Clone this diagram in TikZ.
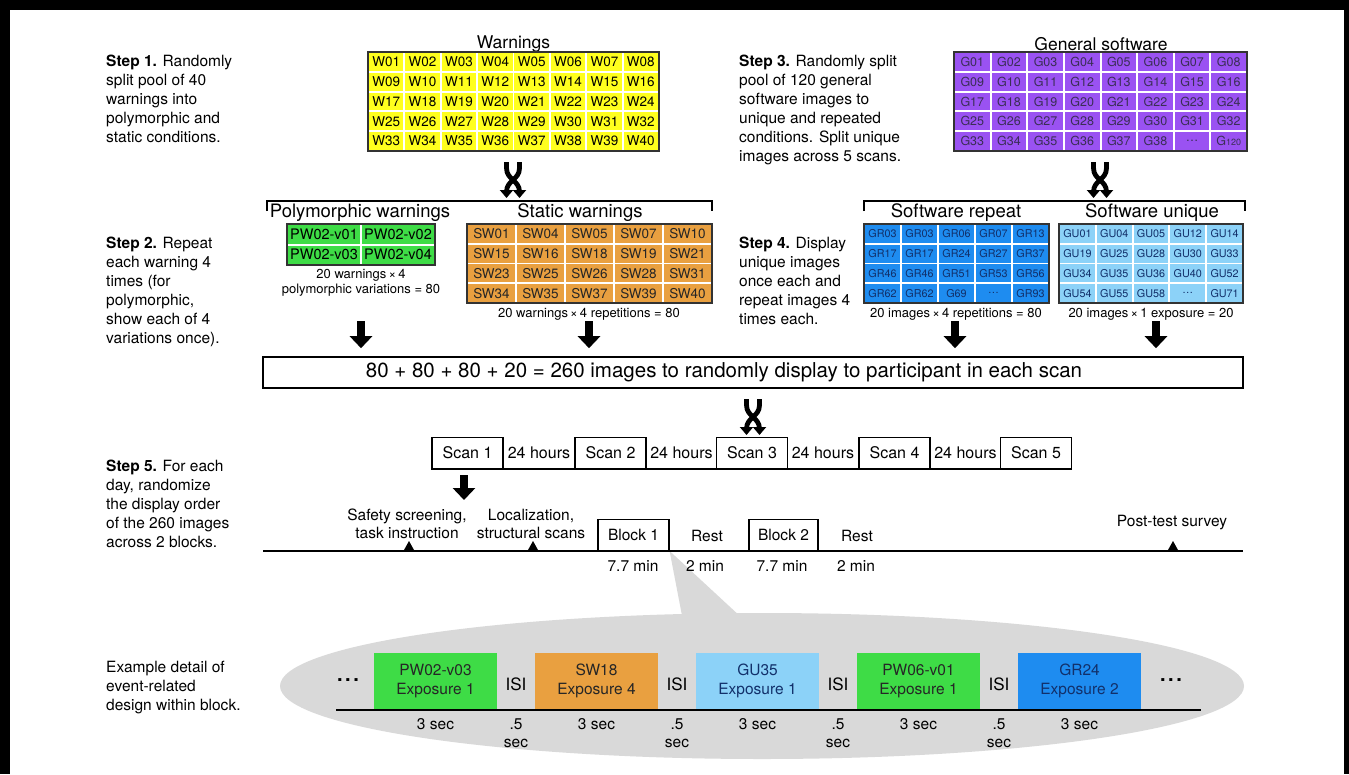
\documentclass[tikz,border=0pt]{standalone}
\usepackage{fontspec}
\setmainfont{TeX Gyre Heros}
\usetikzlibrary{arrows.meta}
\definecolor{wyellow}{HTML}{FFFF1E}
\definecolor{gpurple}{HTML}{9A52F2}
\definecolor{gtext}{HTML}{3A2E55}
\definecolor{pgreen}{HTML}{3EDC46}
\definecolor{sorange}{HTML}{E9A040}
\definecolor{rblue}{HTML}{1E8CF0}
\definecolor{ublue}{HTML}{8CD2F8}
\definecolor{navy}{HTML}{12306A}
\definecolor{bggray}{HTML}{D9D9D9}
\definecolor{framec}{HTML}{333333}
\newcommand{\fsz}[2]{\fontsize{#1}{#2}\selectfont}
\newcommand{\bigdots}{{\bfseries\raisebox{4pt}{.\kern2.5pt.\kern2.5pt.}}}
\tikzset{
  swapicon/.pic={
    \draw[line width=4.8pt,-{Triangle[length=8pt,width=13pt]}] (-6.5,-18) -- (-6.5,-12) .. controls (-6.5,0) and (6.5,0) .. (6.5,12) -- (6.5,18);
    \draw[line width=4.8pt,-{Triangle[length=8pt,width=13pt]}] (6.5,-18) -- (6.5,-12) .. controls (6.5,0) and (-6.5,0) .. (-6.5,12) -- (-6.5,18);
  }
}
\begin{document}
\begin{tikzpicture}[x=1pt,y=-1pt,
  steptext/.style={anchor=north west,align=left,inner sep=0pt,font=\fsz{15.5}{19}},
  titletext/.style={inner sep=0pt,font=\fsz{17.5}{20}},
  captext/.style={inner sep=0pt,align=center,font=\fsz{13}{15}},
  gridbox/.style={draw=framec,line width=1.5pt,inner sep=0pt},
  wcell/.style={fill=wyellow,inner sep=0pt,minimum width=34.4pt,minimum height=17.8pt,font=\fsz{13.5}{13.5}},
  gcell/.style={fill=gpurple,text=gtext,inner sep=0pt,minimum width=34.6pt,minimum height=17.8pt,font=\fsz{12.5}{12.5}},
  pcell/.style={fill=pgreen,inner sep=0pt,minimum width=72pt,minimum height=18.5pt,font=\fsz{14.5}{14.5}},
  scell/.style={fill=sorange,text=black!85,inner sep=0pt,minimum width=47pt,minimum height=17.8pt,font=\fsz{13.5}{13.5}},
  rcell/.style={fill=rblue,text=navy,inner sep=0pt,minimum width=35pt,minimum height=17.8pt,font=\fsz{10.8}{11}},
  ucell/.style={fill=ublue,text=navy,inner sep=0pt,minimum width=34.8pt,minimum height=17.8pt,font=\fsz{10.8}{11}},
  bigarrow/.style={line width=8pt,-{Triangle[length=12pt,width=22pt]}},
  scanbox/.style={draw,line width=1.2pt,inner sep=0pt,minimum width=71pt,minimum height=31pt,font=\fsz{16}{16}},
  hourbox/.style={inner sep=0pt,minimum width=72pt,minimum height=31pt,font=\fsz{16}{16}},
  lbl/.style={inner sep=0pt,align=center,font=\fsz{15.5}{18}},
  blockbox/.style={draw,line width=1.2pt,inner sep=0pt,minimum height=31pt,font=\fsz{15.5}{16}},
  evbox/.style={inner sep=0pt,minimum width=123pt,minimum height=57pt,align=center,font=\fsz{15.5}{19}},
  marker/.style={fill=black}
]
\useasboundingbox (0,0) rectangle (1349,774);
\fill[white] (0,0) rectangle (1349,774);
% frame
\fill[black] (0,0) rectangle (1349,10);
\fill[black] (0,0) rectangle (10,774);
\fill[black] (1344,0) rectangle (1349,774);

% ---------- Step texts ----------
\node[steptext] (step1) at (106,55) {\textbf{Step 1.} Randomly\\split pool of 40\\warnings into\\polymorphic and\\static conditions.};
\node[steptext] (step2) at (106,237) {\textbf{Step 2.} Repeat\\each warning 4\\times (for\\polymorphic,\\show each of 4\\variations once).};
\node[steptext] (step3) at (739,55) {\textbf{Step 3.} Randomly split\\pool of 120 general\\software images to\\unique and repeated\\conditions. Split unique\\images across 5 scans.};
\node[steptext] (step4) at (739,237) {\textbf{Step 4.} Display\\unique images\\once each and\\repeat images 4\\times each.};
\node[steptext] (step5) at (106,460) {\textbf{Step 5.} For each\\day, randomize\\the display order\\of the 260 images\\across 2 blocks.};
\node[steptext] (step6) at (106,661) {Example detail of\\event-related\\design within block.};

% ---------- Warnings grid ----------
\node[titletext] (wtitle) at (513.5,44) {Warnings};
\foreach \row in {0,...,4}{\foreach \col in {0,...,7}{
  \pgfmathtruncatemacro\nn{\row*8+\col+1}
  \node[wcell] (w\nn) at ({368+(\col+0.5)*36.375},{52+(\row+0.5)*19.8}) {W\ifnum\nn<10 0\fi\nn};
}}
\node[gridbox,minimum width=291pt,minimum height=99pt] (wgrid) at (513.5,101.5) {};
\pic at (513,180) {swapicon};

% ---------- General software grid ----------
\node[titletext] (gtitle) at (1101,44) {General software};
\foreach \row in {0,...,4}{\foreach \col in {0,...,7}{
  \pgfmathtruncatemacro\nn{\row*8+\col+1}
  \node[gcell] (g\nn) at ({954+(\col+0.5)*36.625},{52+(\row+0.5)*19.8}) {\ifnum\nn=39 \ldots\else\ifnum\nn=40 G{\fsz{9}{9}120}\else G\ifnum\nn<10 0\fi\nn\fi\fi};
}}
\node[gridbox,minimum width=293pt,minimum height=99pt] (ggrid) at (1100.5,101.5) {};
\pic at (1100,180) {swapicon};

% ---------- Step 2 bracket and grids ----------
\draw[line width=1.6pt] (267,211) -- (267,201) -- (712,201) -- (712,211);
\node[titletext,font=\fsz{18.5}{20}] (ptitle) at (360,213) {Polymorphic warnings};
\node[titletext,font=\fsz{18.5}{20}] (stitle) at (580,213) {Static warnings};
\foreach \lab [count=\i from 0] in {PW02-v01,PW02-v02,PW02-v03,PW02-v04}{
  \pgfmathtruncatemacro\col{mod(\i,2)}
  \pgfmathtruncatemacro\row{int(\i/2)}
  \node[pcell] (p\i) at ({287+(\col+0.5)*74},{224+(\row+0.5)*20.5}) {\lab};
}
\node[gridbox,minimum width=148pt,minimum height=41pt] (pgrid) at (361,244.5) {};
\node[captext] (pcap) at (361,283) {20 warnings\,×\,4\\polymorphic variations = 80};

\foreach \lab [count=\i from 0] in {SW01,SW04,SW05,SW07,SW10,SW15,SW16,SW18,SW19,SW21,SW23,SW25,SW26,SW28,SW31,SW34,SW35,SW37,SW39,SW40}{
  \pgfmathtruncatemacro\col{mod(\i,5)}
  \pgfmathtruncatemacro\row{int(\i/5)}
  \node[scell] (s\i) at ({467+(\col+0.5)*49},{224+(\row+0.5)*19.75}) {\lab};
}
\node[gridbox,minimum width=245pt,minimum height=79pt] (sgrid) at (589.5,263.5) {};
\node[captext] (scap) at (589,314) {20 warnings\,×\,4 repetitions = 80};

% ---------- Step 4 bracket and grids ----------
\draw[line width=1.6pt] (864,211) -- (864,201) -- (1245,201) -- (1245,211);
\node[titletext,font=\fsz{18.5}{20}] (rtitle) at (956,213) {Software repeat};
\node[titletext,font=\fsz{18.5}{20}] (utitle) at (1152,213) {Software unique};
\foreach \lab [count=\i from 0] in {GR03,GR03,GR06,GR07,GR13,GR17,GR17,GR24,GR27,GR37,GR46,GR46,GR51,GR53,GR56,GR62,GR62,G69,\ldots,GR93}{
  \pgfmathtruncatemacro\col{mod(\i,5)}
  \pgfmathtruncatemacro\row{int(\i/5)}
  \node[rcell] (r\i) at ({864+(\col+0.5)*37},{224+(\row+0.5)*19.75}) {\lab};
}
\node[gridbox,minimum width=185pt,minimum height=79pt] (rgrid) at (956.5,263.5) {};
\node[captext] (rcap) at (956,314) {20 images\,×\,4 repetitions = 80};
\foreach \lab [count=\i from 0] in {GU01,GU04,GU05,GU12,GU14,GU19,GU25,GU28,GU30,GU33,GU34,GU35,GU36,GU40,GU52,GU54,GU55,GU58,\ldots,GU71}{
  \pgfmathtruncatemacro\col{mod(\i,5)}
  \pgfmathtruncatemacro\row{int(\i/5)}
  \node[ucell] (u\i) at ({1059+(\col+0.5)*36.8},{224+(\row+0.5)*19.75}) {\lab};
}
\node[gridbox,minimum width=184pt,minimum height=79pt] (ugrid) at (1151,263.5) {};
\node[captext] (ucap) at (1151,314) {20 images\,×\,1 exposure = 20};

% ---------- combined box ----------
\node[draw,line width=1.6pt,minimum width=980pt,minimum height=31pt,inner sep=0pt] (allbox) at (753,372.5) {};
\node[inner sep=0pt,font=\fsz{20.5}{22}] (alltext) at (724,372.5) {80 + 80 + 80 + 20 = 260 images to randomly display to participant in each scan};
\coordinate (a1) at (361,321);
\coordinate (a2) at (589,321);
\coordinate (a3) at (955,321);
\coordinate (a4) at (1156,321);
\foreach \a in {a1,a2,a3,a4}{
  \draw[bigarrow,shorten >=8pt] (\a) -- (\a |- allbox.north);
}
\pic at (753,417) {swapicon};

% ---------- scans ----------
\node[scanbox] (scan1) at (467.5,453) {Scan 1};
\node[hourbox] (h1) at (539,453) {24 hours};
\node[scanbox] (scan2) at (610.5,453) {Scan 2};
\node[hourbox] (h2) at (681.5,453) {24 hours};
\node[scanbox] (scan3) at (752,453) {Scan 3};
\node[hourbox] (h3) at (823,453) {24 hours};
\node[scanbox] (scan4) at (894.5,453) {Scan 4};
\node[hourbox] (h4) at (965.5,453) {24 hours};
\node[scanbox] (scan5) at (1036,453) {Scan 5};
\draw[line width=2.4pt] (scan1.south west) -- (scan5.south east);

% ---------- day timeline ----------
\coordinate (tl0) at (263,551);
\coordinate (tl1) at (1243,551);
\node[lbl] (safety) at (407,524) {Safety screening,\\task instruction};
\node[lbl] (local) at (531,524) {Localization,\\structural scans};
\node[lbl] (post) at (1172,523) {Post-test survey};
\coordinate (s1a) at (464,470);
\coordinate (s1b) at (464,503);
\draw[bigarrow,shorten <=5pt,shorten >=3pt] (s1a) -- (s1b);
\node[blockbox,minimum width=71pt,anchor=south] (block1) at (633.5,551) {Block 1};
\node[blockbox,minimum width=69pt,anchor=south] (block2) at (783.5,551) {Block 2};
\node[lbl] (rest1) at (707,536) {Rest};
\node[lbl] (rest2) at (857,536) {Rest};

% callout
\fill[bggray] (762,686) ellipse [x radius=482pt,y radius=73pt];
\fill[bggray] (block1.south east) -- (742,618) -- (684,626) -- cycle;

\draw[line width=2.5pt] (tl0) -- (tl1);
\foreach \mx in {409,533,1173}{
  \fill[marker] (\mx-5,550) -- (\mx+5,550) -- (\mx,541) -- cycle;
}
\node[lbl] (d1) at (633,566) {7.7 min};
\node[lbl] (d2) at (705,566) {2 min};
\node[lbl] (d3) at (782,566) {7.7 min};
\node[lbl] (d4) at (856,566) {2 min};

% ---------- event-related detail ----------
\node[evbox,fill=pgreen,text=black!85] (e1) at (435.5,681) {PW02-v03\\Exposure 1};
\node[evbox,fill=sorange,text=black!85] (e2) at (596.5,681) {SW18\\Exposure 4};
\node[evbox,fill=ublue,text=navy] (e3) at (757.5,681) {GU35\\Exposure 1};
\node[evbox,fill=pgreen,text=black!85] (e4) at (918.5,681) {PW06-v01\\Exposure 1};
\node[evbox,fill=rblue,text=navy] (e5) at (1079.5,681) {GR24\\Exposure 2};
\node[lbl,font=\fsz{17}{18}] (isi1) at (516,684) {ISI};
\node[lbl,font=\fsz{17}{18}] (isi2) at (677,684) {ISI};
\node[lbl,font=\fsz{17}{18}] (isi3) at (838,684) {ISI};
\node[lbl,font=\fsz{17}{18}] (isi4) at (999,684) {ISI};
\node[lbl,font=\fsz{20}{20}] (dl) at (348,682) {\bigdots};
\node[lbl,font=\fsz{20}{20}] (dr) at (1171,682) {\bigdots};
\coordinate (el0) at (336,710);
\coordinate (el1) at (1201,710);
\draw[line width=2.8pt] (el0) -- (el1);
\foreach \e/\xx in {e1/435.5,e2/596.5,e3/757.5,e4/918.5,e5/1079.5}{
  \node[lbl] (t\e) at (\xx,724) {3 sec};
}
\foreach \e/\xx in {isi1/516,isi2/677,isi3/838,isi4/999}{
  \node[lbl] (t\e) at (\xx,733) {.5\\sec};
}
\end{tikzpicture}
\end{document}
